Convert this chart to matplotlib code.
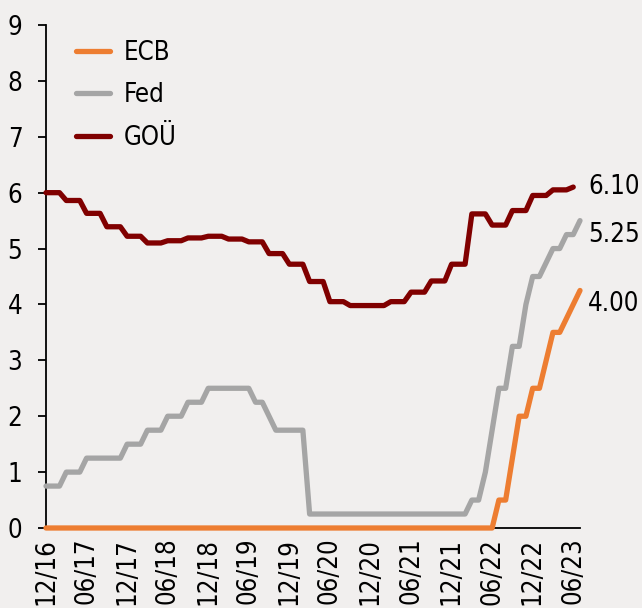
import matplotlib
matplotlib.use("Agg")
import matplotlib.pyplot as plt

plt.rcParams['font.family'] = ['DejaVu Sans']
plt.rcParams['font.stretch'] = 'condensed'

# Monthly, end of month: Dec 2016 ... Jul 2023
tick_labels = ["12/16", "06/17", "12/17", "06/18", "12/18", "06/19", "12/19",
               "06/20", "12/20", "06/21", "12/21", "06/22", "12/22", "06/23"]

ecb = [0, 0, 0, 0, 0, 0, 0, 0, 0, 0,
       0, 0, 0, 0, 0, 0, 0, 0, 0, 0,
       0, 0, 0, 0, 0, 0, 0, 0, 0, 0,
       0, 0, 0, 0, 0, 0, 0, 0, 0, 0,
       0, 0, 0, 0, 0, 0, 0, 0, 0, 0,
       0, 0, 0, 0, 0, 0, 0, 0, 0, 0,
       0, 0, 0, 0, 0, 0, 0, 0.5, 0.5, 1.25,
       2.0, 2.0, 2.5, 2.5, 3.0, 3.5, 3.5, 3.75, 4.0, 4.25]

fed = [0.75, 0.75, 0.75, 1.0, 1.0, 1.0, 1.25, 1.25, 1.25, 1.25,
       1.25, 1.25, 1.5, 1.5, 1.5, 1.75, 1.75, 1.75, 2.0, 2.0,
       2.0, 2.25, 2.25, 2.25, 2.5, 2.5, 2.5, 2.5, 2.5, 2.5,
       2.5, 2.25, 2.25, 2.0, 1.75, 1.75, 1.75, 1.75, 1.75, 0.25,
       0.25, 0.25, 0.25, 0.25, 0.25, 0.25, 0.25, 0.25, 0.25, 0.25,
       0.25, 0.25, 0.25, 0.25, 0.25, 0.25, 0.25, 0.25, 0.25, 0.25,
       0.25, 0.25, 0.25, 0.5, 0.5, 1.0, 1.75, 2.5, 2.5, 3.25,
       3.25, 4.0, 4.5, 4.5, 4.75, 5.0, 5.0, 5.25, 5.25, 5.5]

gou = [6.00, 6.00, 6.00, 5.86, 5.86, 5.86, 5.63, 5.63, 5.63, 5.39,
       5.39, 5.39, 5.22, 5.22, 5.22, 5.10, 5.10, 5.10, 5.14, 5.14,
       5.14, 5.19, 5.19, 5.19, 5.22, 5.22, 5.22, 5.17, 5.17, 5.17,
       5.12, 5.12, 5.12, 4.91, 4.91, 4.91, 4.72, 4.72, 4.72, 4.41,
       4.41, 4.41, 4.05, 4.05, 4.05, 3.98, 3.98, 3.98, 3.98, 3.98,
       3.98, 4.05, 4.05, 4.05, 4.22, 4.22, 4.22, 4.42, 4.42, 4.42,
       4.72, 4.72, 4.72, 5.62, 5.62, 5.62, 5.42, 5.42, 5.42, 5.68,
       5.68, 5.68, 5.95, 5.95, 5.95, 6.05, 6.05, 6.05, 6.10]

end_labels = ["6.10", "5.25", "4.00"]
end_values = [6.10, 5.25, 4.00]

bg = "#F1EFEE"
c_ecb = "#ED7D31"
c_fed = "#A5A5A5"
c_gou = "#800000"

W, H = 642, 608
fig = plt.figure(figsize=(W / 100, H / 100), dpi=100, facecolor=bg)
ax = fig.add_axes([46 / W, 1 - 528 / H, (580 - 46) / W, (528 - 25) / H], facecolor=bg)

x_ecb = list(range(len(ecb)))
x_fed = list(range(len(fed)))
x_gou = list(range(len(gou)))

lw = 3.8
ax.plot(x_ecb, ecb, color=c_ecb, lw=lw, solid_capstyle='round', solid_joinstyle='round',
        label="ECB", clip_on=False, zorder=4)
ax.plot(x_fed, fed, color=c_fed, lw=lw, solid_capstyle='round', solid_joinstyle='round',
        label="Fed", clip_on=False, zorder=4)
ax.plot(x_gou, gou, color=c_gou, lw=lw, solid_capstyle='round', solid_joinstyle='round',
        label="GOÜ", clip_on=False, zorder=5)

ax.set_xlim(0, 79)
ax.set_ylim(0, 9)
ax.set_yticks(range(0, 10))
ax.set_xticks(range(0, 79, 6))
ax.set_xticklabels(tick_labels, rotation=90, va='top', ha='center')

for s in ['top', 'right']:
    ax.spines[s].set_visible(False)
for s in ['left', 'bottom']:
    ax.spines[s].set_color('black')
    ax.spines[s].set_linewidth(1.3)
    ax.spines[s].set_zorder(2)

ax.tick_params(axis='y', length=6, width=1.3, direction='out', pad=11, labelsize=18.5)
ax.tick_params(axis='x', length=0, pad=7, labelsize=18.5)

for lab, val in zip(end_labels, end_values):
    ax.annotate(lab, xy=(79, val), xytext=(8, 0), textcoords='offset pixels',
                ha='left', va='center', fontsize=18.5, annotation_clip=False)

leg = ax.legend(loc='upper left', bbox_to_anchor=(76 / W, 1 - 40 / H),
                bbox_transform=fig.transFigure, frameon=False, fontsize=18.5,
                handlelength=1.33, handletextpad=0.52, labelspacing=0.64,
                borderpad=0, borderaxespad=0)
for h in leg.get_lines():
    h.set_linewidth(lw)
    h.set_solid_capstyle('round')

fig.savefig("out.png", dpi=100, facecolor=bg)
